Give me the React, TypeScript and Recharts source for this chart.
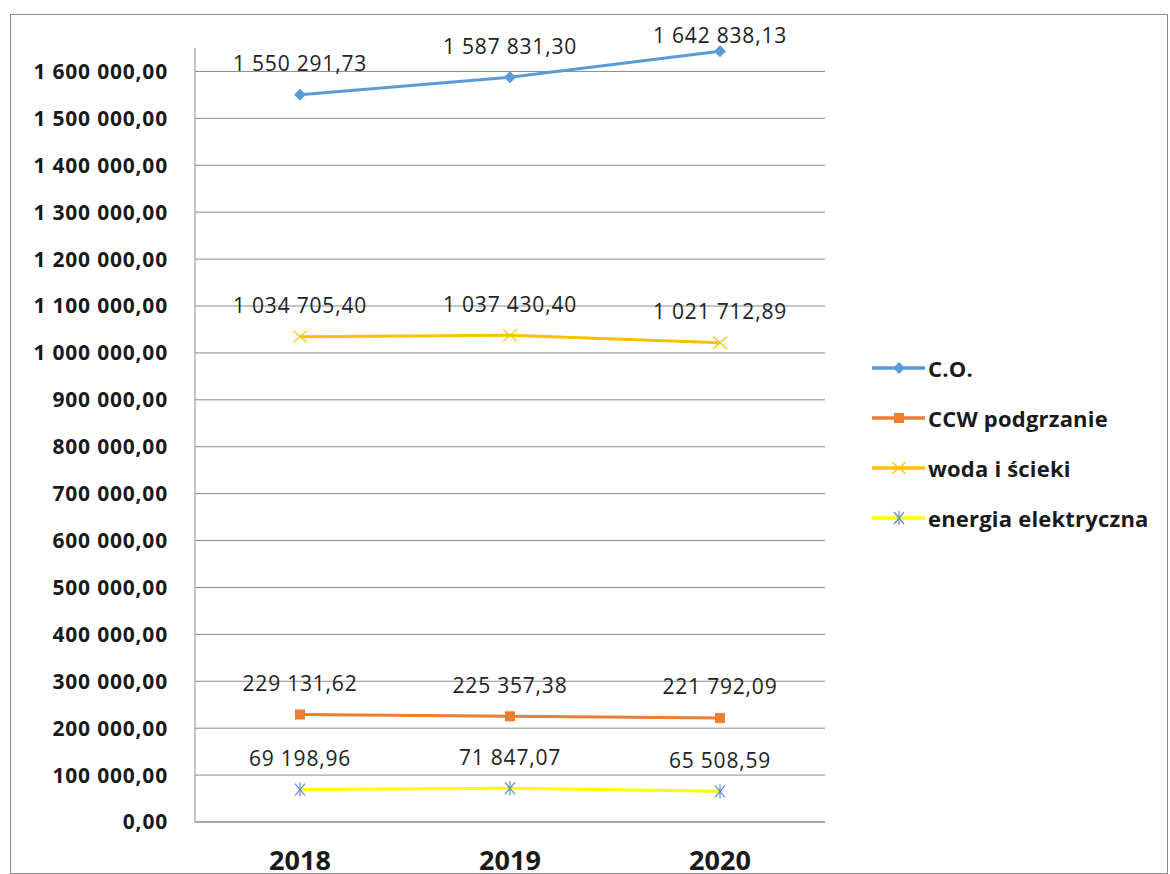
import React from 'react';
import { LineChart, Line, XAxis, YAxis, CartesianGrid, LabelList } from 'recharts';

const YEARS = ['2018', '2019', '2020'];
const CO = [1550291.73, 1587831.3, 1642838.13];
const CCW = [229131.62, 225357.38, 221792.09];
const WODA = [1034705.4, 1037430.4, 1021712.89];
const ENERGIA = [69198.96, 71847.07, 65508.59];
const Y_TICKS = [0, 100000, 200000, 300000, 400000, 500000, 600000, 700000, 800000,
  900000, 1000000, 1100000, 1200000, 1300000, 1400000, 1500000, 1600000];

const SERIES = [
  { key: 'co', name: 'C.O.', values: CO, color: '#5B9BD5', marker: 'diamond', markerColor: '#5B9BD5' },
  { key: 'ccw', name: 'CCW podgrzanie', values: CCW, color: '#ED7D31', marker: 'square', markerColor: '#ED7D31' },
  { key: 'woda', name: 'woda i ścieki', values: WODA, color: '#FFC000', marker: 'x', markerColor: '#FFC000' },
  { key: 'energia', name: 'energia elektryczna', values: ENERGIA, color: '#FFFF00', marker: 'star', markerColor: '#5B8EDB' },
];

const data = YEARS.map((year, i) => {
  const row: { [k: string]: string | number } = { year };
  SERIES.forEach(s => { row[s.key] = s.values[i]; });
  return row;
});

// polish style: 1 550 291,73
const fmt = (v: number) => {
  const [int, dec] = v.toFixed(2).split('.');
  return int.replace(/\B(?=(\d{3})+(?!\d))/g, ' ') + ',' + dec;
};

const FONT = '"Open Sans", Lato, sans-serif';

const Marker = ({ type, cx, cy, color }: { type: string; cx: number; cy: number; color: string }) => {
  if (type === 'diamond') {
    return <polygon points={`${cx},${cy - 6} ${cx + 6},${cy} ${cx},${cy + 6} ${cx - 6},${cy}`} fill={color} />;
  }
  if (type === 'square') {
    return <rect x={cx - 5} y={cy - 5} width={10} height={10} fill={color} />;
  }
  if (type === 'x') {
    return (
      <g stroke={color} strokeWidth={1.2}>
        <line x1={cx - 7} y1={cy - 6} x2={cx + 7} y2={cy + 6} />
        <line x1={cx - 7} y1={cy + 6} x2={cx + 7} y2={cy - 6} />
      </g>
    );
  }
  return (
    <g stroke={color} strokeWidth={1.2}>
      <line x1={cx} y1={cy - 7} x2={cx} y2={cy + 7} />
      <line x1={cx - 5} y1={cy - 6} x2={cx + 5} y2={cy + 6} />
      <line x1={cx - 5} y1={cy + 6} x2={cx + 5} y2={cy - 6} />
    </g>
  );
};

// label centred ~31px above the point, kept inside the chart area like Excel does
const ValueLabel = (p: any) => {
  const vb = p.viewBox || {};
  const x = vb.x ?? p.x;
  const y = vb.y ?? p.y;
  const center = Math.max(y - 31, 21);
  return (
    <text x={x} y={center + 7.5} textAnchor="middle" fill="#222" fontSize={21} letterSpacing={0.8} fontFamily={FONT}>
      {fmt(Number(p.value))}
    </text>
  );
};

const App: React.FC = () => {
  return (
    <div style={{ position: 'absolute', left: 0, top: 0, width: 1170, height: 874, background: '#fff', overflow: 'hidden', fontFamily: FONT }}>
      <div style={{ position: 'absolute', left: 10, top: 14, width: 1158, height: 860, border: '1px solid #8c8c8c', boxSizing: 'border-box' }} />
      <div style={{ position: 'absolute', left: 10, top: 14 }}>
        <LineChart width={1158} height={858} data={data} margin={{ top: 34, right: 343, bottom: 0, left: 0 }}>
          <CartesianGrid vertical={false} stroke="#8c8c8c" horizontalValues={Y_TICKS} />
          <XAxis
            dataKey="year"
            height={50}
            padding={{ left: 105, right: 105 }}
            tickLine={false}
            tickSize={0}
            tickMargin={29}
            axisLine={{ stroke: '#8c8c8c' }}
            tick={{ fill: '#1a1a1a', fontSize: 27, fontWeight: 700, fontFamily: FONT }}
          />
          <YAxis
            width={185}
            domain={[0, 1650000]}
            ticks={Y_TICKS}
            interval={0}
            tickLine={false}
            tickSize={0}
            tickMargin={27}
            axisLine={{ stroke: '#8c8c8c' }}
            tickFormatter={fmt}
            tick={{ fill: '#1a1a1a', fontSize: 21, fontWeight: 700, fontFamily: FONT, letterSpacing: 0.8 }}
          />
          {SERIES.map(s => (
            <Line
              key={s.key}
              dataKey={s.key}
              name={s.name}
              stroke={s.color}
              strokeWidth={3}
              isAnimationActive={false}
              dot={(p: any) => <Marker key={`${s.key}-${p.index}`} type={s.marker} cx={p.cx} cy={p.cy} color={s.markerColor} />}
              activeDot={false}
            >
              <LabelList dataKey={s.key} content={ValueLabel} />
            </Line>
          ))}
        </LineChart>
      </div>
      <div style={{ position: 'absolute', left: 872, top: 343 }}>
        {SERIES.map(s => (
          <div key={s.key} style={{ display: 'flex', alignItems: 'center', height: 50 }}>
            <svg width={56} height={20} style={{ flex: 'none' }}>
              <line x1={0} y1={10} x2={53} y2={10} stroke={s.color} strokeWidth={3.5} />
              <Marker type={s.marker} cx={27} cy={10} color={s.markerColor} />
            </svg>
            <span style={{ fontSize: 22, fontWeight: 700, letterSpacing: 0.2, color: '#1a1a1a', whiteSpace: 'nowrap' }}>{s.name}</span>
          </div>
        ))}
      </div>
    </div>
  );
};

export default App;
